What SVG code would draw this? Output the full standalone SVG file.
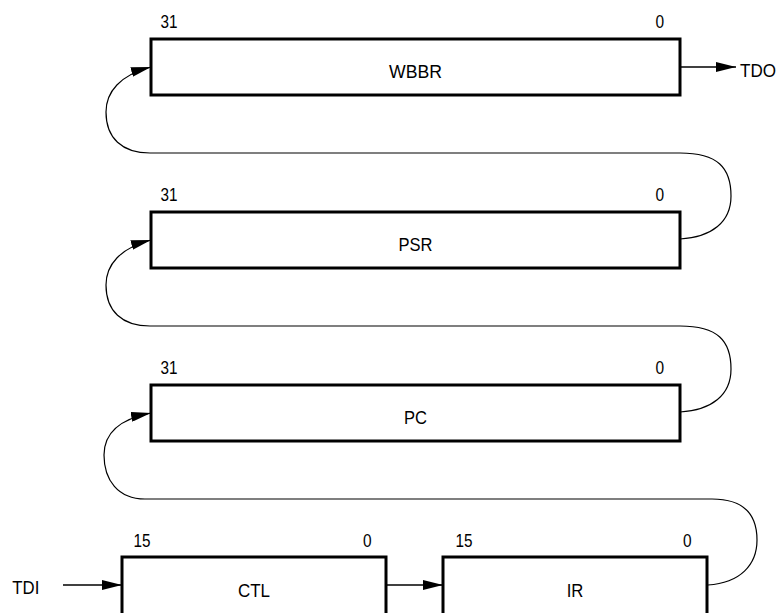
<svg xmlns="http://www.w3.org/2000/svg" width="780" height="613" viewBox="0 0 780 613">
<defs>
<style>
.box{fill:#fff;stroke:#000;stroke-width:3}
.t{font-family:"Liberation Sans",Arial,sans-serif;font-size:19px;fill:#000}
.c{text-anchor:middle}
.curve{fill:none;stroke:#000;stroke-width:1.2}
.line{fill:none;stroke:#000;stroke-width:1.5}
</style>
<marker id="ah" viewBox="0 0 20 10" refX="20" refY="5" markerWidth="20" markerHeight="10" markerUnits="userSpaceOnUse" orient="auto">
<path d="M0,0 L20,5 L0,10 Z" fill="#000"/>
</marker>
</defs>
<rect width="780" height="613" fill="#fff"/>
<g id="connectors">
<path class="curve" d="M680,239 C712,237 731,222 731,196 C731,168 718,153 680,153 L150,153 C122,153 106,138 106,112 C106,92 120,75 151,67" marker-end="url(#ah)"/>
<path class="curve" d="M680,412 C712,410 731,395 731,369 C731,341 718,326 680,326 L150,326 C122,326 106,311 106,285 C106,265 120,248 151,240" marker-end="url(#ah)"/>
<path class="curve" d="M708,585 C740,583 757,565 757,540 C757,512 742,499 712,499 L145,499 C118,499 104,480 104,455 C104,432 120,419 151,413" marker-end="url(#ah)"/>
<path class="line" d="M680,67 L736,67" marker-end="url(#ah)"/>
<path class="line" d="M63,585 L122,585" marker-end="url(#ah)"/>
<path class="line" d="M386,585 L443,585" marker-end="url(#ah)"/>
</g>
<g id="wbbr">
<rect class="box" x="151" y="39" width="529" height="56"/>
<text class="t" x="160.5" y="27.5" textLength="17" lengthAdjust="spacingAndGlyphs">31</text>
<text class="t" x="655.5" y="27.5" textLength="8.6" lengthAdjust="spacingAndGlyphs">0</text>
<text class="t c" x="415.5" y="78" textLength="53" lengthAdjust="spacingAndGlyphs">WBBR</text>
</g>
<g id="psr">
<rect class="box" x="151" y="212" width="529" height="56"/>
<text class="t" x="160.5" y="200.5" textLength="17" lengthAdjust="spacingAndGlyphs">31</text>
<text class="t" x="655.5" y="200.5" textLength="8.6" lengthAdjust="spacingAndGlyphs">0</text>
<text class="t c" x="415.5" y="251" textLength="34" lengthAdjust="spacingAndGlyphs">PSR</text>
</g>
<g id="pc">
<rect class="box" x="151" y="385" width="529" height="56"/>
<text class="t" x="160.5" y="373.5" textLength="17" lengthAdjust="spacingAndGlyphs">31</text>
<text class="t" x="655.5" y="373.5" textLength="8.6" lengthAdjust="spacingAndGlyphs">0</text>
<text class="t c" x="415.5" y="424" textLength="23" lengthAdjust="spacingAndGlyphs">PC</text>
</g>
<g id="ctl">
<rect class="box" x="122" y="557" width="264" height="60"/>
<text class="t" x="133.5" y="546.5" textLength="17" lengthAdjust="spacingAndGlyphs">15</text>
<text class="t" x="363" y="546.5" textLength="8.6" lengthAdjust="spacingAndGlyphs">0</text>
<text class="t c" x="254" y="596.5" textLength="32" lengthAdjust="spacingAndGlyphs">CTL</text>
</g>
<g id="ir">
<rect class="box" x="443" y="557" width="264" height="60"/>
<text class="t" x="455.5" y="546.5" textLength="17" lengthAdjust="spacingAndGlyphs">15</text>
<text class="t" x="683" y="546.5" textLength="8.6" lengthAdjust="spacingAndGlyphs">0</text>
<text class="t c" x="575" y="596.5" textLength="16.7" lengthAdjust="spacingAndGlyphs">IR</text>
</g>
<g id="tdo"><text class="t" x="740" y="77" textLength="36" lengthAdjust="spacingAndGlyphs">TDO</text></g>
<g id="tdi"><text class="t" x="12.3" y="594" textLength="27" lengthAdjust="spacingAndGlyphs">TDI</text></g>
</svg>
